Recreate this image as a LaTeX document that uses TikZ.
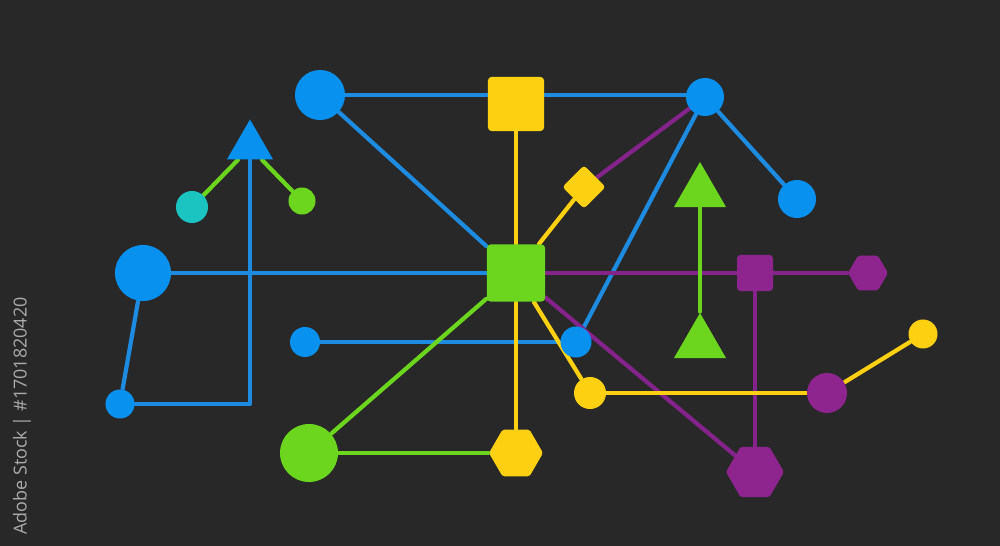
\documentclass[tikz,border=0pt]{standalone}
\usepackage{fontspec}
\setmainfont{Open Sans}
\usetikzlibrary{shapes.geometric,calc}
\definecolor{bgc}{HTML}{282828}
\definecolor{blueF}{HTML}{0991EF}
\definecolor{blueL}{HTML}{1C8BE0}
\definecolor{yel}{HTML}{FDD012}
\definecolor{grn}{HTML}{6CD61E}
\definecolor{pur}{HTML}{8E258F}
\definecolor{purL}{HTML}{84238A}
\definecolor{teal}{HTML}{1BC4C0}
\definecolor{wm}{HTML}{ABABAB}
\pgfdeclarelayer{bg}
\pgfsetlayers{bg,main}
\tikzset{
  dot/.style={circle,inner sep=0pt,minimum size=#1,draw=none},
  sq/.style={rectangle,inner sep=0pt,rounded corners=1pt,draw=none},
  hexa/.style={regular polygon,regular polygon sides=6,inner sep=0pt,minimum size=#1,rounded corners=0.5pt},
  tri/.style={regular polygon,regular polygon sides=3,inner sep=0pt,minimum size=#1},
  dia/.style={diamond,inner sep=0pt,minimum width=#1,minimum height=#1,rounded corners=1pt},
  ln/.style={line width=1.2pt,line cap=round,line join=round},
}
\begin{document}
\begin{tikzpicture}[x=0.01cm,y=-0.01cm]
\useasboundingbox (0,0) rectangle (1000,546);
% nodes
\node[dot=0.50cm,fill=blueF] (A) at (320,95) {};
\node[sq,fill=yel,minimum width=0.56cm,minimum height=0.54cm] (Y1) at (516,104) {};
\node[dot=0.38cm,fill=blueF] (B) at (705,97) {};
\node[dot=0.38cm,fill=blueF] (C) at (797,199) {};
\node[tri=0.53cm,fill=blueF] (T1) at (250,146) {};
\node[dot=0.32cm,fill=teal] (Tc) at (192,207) {};
\node[dot=0.27cm,fill=grn] (Gs) at (302,201) {};
\node[dot=0.56cm,fill=blueF] (D) at (143,273) {};
\node[dot=0.29cm,fill=blueF] (E) at (120,404) {};
\node[sq,fill=grn,minimum width=0.58cm,minimum height=0.57cm] (G) at (516,273) {};
\node[dia=0.44cm,fill=yel] (Di) at (584,187) {};
\node[tri=0.60cm,fill=grn] (T2) at (700,192) {};
\node[tri=0.60cm,fill=grn] (T3) at (700,343) {};
\node[sq,fill=pur,minimum width=0.36cm,minimum height=0.36cm] (P) at (755,273) {};
\node[hexa=0.40cm,fill=pur] (Hs) at (868,273) {};
\node[dot=0.30cm,fill=blueF] (F) at (305,342) {};
\node[dot=0.31cm,fill=blueF] (H) at (576,342) {};
\node[dot=0.32cm,fill=yel] (I) at (590,393) {};
\node[dot=0.40cm,fill=pur] (J) at (827,393) {};
\node[dot=0.29cm,fill=yel] (K) at (923,334) {};
\node[dot=0.58cm,fill=grn] (L) at (309,453) {};
\node[hexa=0.54cm,fill=yel] (M) at (516,453) {};
\node[hexa=0.58cm,fill=pur] (N) at (755,472) {};
\node[rotate=90,text=wm,font=\fontsize{5.1pt}{6pt}\selectfont,inner sep=0pt] (W) at (22,416) {Adobe Stock \textbar\ \#1701820420};
\begin{pgfonlayer}{bg}
\fill[bgc] (0,0) rectangle (1000,546);
% blue
\draw[ln,blueL] (A) -- (A -| Y1.west);
\draw[ln,blueL] (Y1.east |- A) -- (B.west |- A);
\draw[ln,blueL] (A) -- (G);
\draw[ln,blueL] (B) -- (C);
\draw[ln,blueL] (B) -- (H);
\draw[ln,blueL] (D) -- (G);
\draw[ln,blueL] (D) -- (E);
\draw[ln,blueL] (E) -| (T1.south);
\draw[ln,blueL] (F) -- (H);
% purple
\draw[ln,purL] (Di) -- (B);
\draw[ln,purL] (G) -- (P);
\draw[ln,purL] (P) -- (Hs);
\draw[ln,purL] (G) -- (N);
\draw[ln,purL] (P) -- (N);
% yellow
\draw[ln,yel] (Y1) -- (G);
\draw[ln,yel] (G) -- (Di);
\draw[ln,yel] (G) -- (M);
\draw[ln,yel] (G) -- (I);
\draw[ln,yel] (I) -- (J);
\draw[ln,yel] (J) -- (K);
% green
\draw[ln,grn] ($(T1.corner 2)!0.5!(T1.south)$) -- (Tc);
\draw[ln,grn] ($(T1.corner 3)!0.5!(T1.south)$) -- (Gs);
\draw[ln,grn] (G) -- (L);
\draw[ln,grn] (L) -- (M);
\draw[ln,grn] (T2.south) -- (T3.corner 1);
\end{pgfonlayer}
\end{tikzpicture}
\end{document}
